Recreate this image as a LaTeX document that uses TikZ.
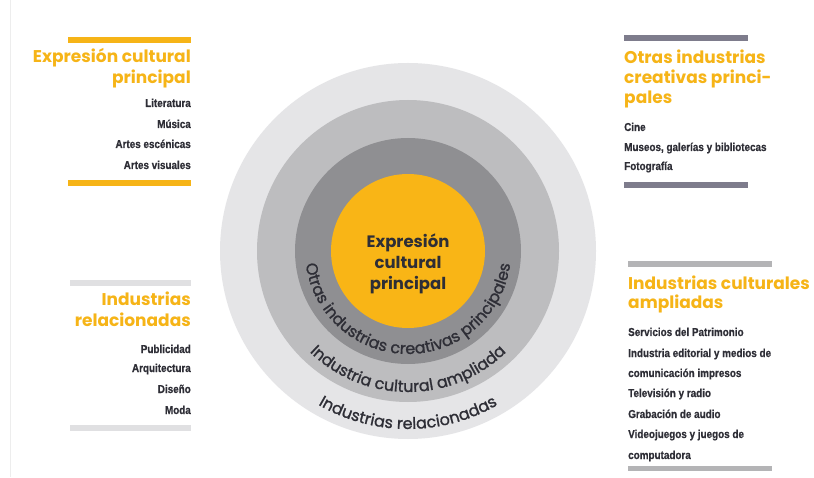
\documentclass[tikz,border=0pt]{standalone}
\usepackage{fontspec}
\setmainfont{Poppins}
\newfontfamily\headfont{Poppins}
\newfontfamily\ringfont{Poppins}[FakeBold=1.2]
\newfontfamily\itemfont{Liberation Sans}[FakeStretch=0.86, FakeBold=0.6]
\usetikzlibrary{decorations.text}
\definecolor{gold}{HTML}{F6B417}
\definecolor{ringA}{HTML}{E5E5E7}
\definecolor{ringB}{HTML}{BDBDBF}
\definecolor{ringC}{HTML}{8F8F92}
\definecolor{core}{HTML}{F9B516}
\definecolor{ink}{HTML}{2E2E36}
\definecolor{barpurple}{HTML}{7E7C8C}
\definecolor{barlight}{HTML}{E0E0E2}
\definecolor{barmid}{HTML}{B4B4B6}
\definecolor{edge}{HTML}{EDEDED}
\begin{document}
\begin{tikzpicture}[x=1pt,y=1pt,
  heading/.style={font=\headfont\bfseries\fontsize{17}{21}\selectfont, text=gold, inner sep=0pt},
  item/.style={font=\itemfont\bfseries\fontsize{11.5}{13}\selectfont, text=ink, inner sep=0pt},
  centertext/.style={font=\headfont\bfseries\fontsize{16.5}{21}\selectfont, text=ink, inner sep=0pt, anchor=base},
  ringtext/.style={decorate, decoration={text along path, text align=center, text={|\ringfont\fontsize{16}{16}\selectfont\color{ink}|#1}}}
]
\useasboundingbox (0,0) rectangle (814,477);
\fill[white] (0,0) rectangle (814,477);
\draw[edge, line width=1pt] (10,0) -- (10,477);

% circles
\coordinate (C) at (408,226);
\fill[ringA] (C) circle[radius=188];
\fill[ringB] (C) circle[radius=151];
\fill[ringC] (C) circle[radius=113];
\fill[core] (C) circle[radius=77];

\node[centertext] (c1) at (408,229) {Expresión};
\node[centertext] (c2) at (408,208) {cultural};
\node[centertext] (c3) at (408,187) {principal};

\path[ringtext={Otras industrias creativas principales}] (C) ++(180:103) arc[start angle=180, end angle=360, radius=103];
\path[ringtext={Industria cultural ampliada}] (C) ++(180:141) arc[start angle=180, end angle=360, radius=141];
\path[ringtext={Industrias relacionadas}] (C) ++(180:178) arc[start angle=180, end angle=360, radius=178];

% top left block
\fill[gold] (68,440) rectangle (191,434);
\node[heading, anchor=base east] (tl1) at (191,414) {Expresión cultural};
\node[heading, anchor=base east] (tl2) at (191,393) {principal};
\node[item, anchor=base east] (tla) at (191,370) {Literatura};
\node[item, anchor=base east] (tlb) at (191,349) {Música};
\node[item, anchor=base east] (tlc) at (191,329) {Artes escénicas};
\node[item, anchor=base east] (tld) at (191,308) {Artes visuales};
\fill[gold] (68,297) rectangle (191,291);

% bottom left block
\fill[barlight] (70,197) rectangle (191,191);
\node[heading, anchor=base east] (bl1) at (191,171) {Industrias};
\node[heading, anchor=base east] (bl2) at (191,150) {relacionadas};
\node[item, anchor=base east] (bla) at (191,124) {Publicidad};
\node[item, anchor=base east] (blb) at (191,105) {Arquitectura};
\node[item, anchor=base east] (blc) at (191,84) {Diseño};
\node[item, anchor=base east] (bld) at (191,63) {Moda};
\fill[barlight] (70,52) rectangle (191,46);

% top right block
\fill[barpurple] (624,442) rectangle (748,436);
\node[heading, anchor=base west] (tr1) at (624,413) {Otras industrias};
\node[heading, anchor=base west] (tr2) at (624,393) {creativas princi-};
\node[heading, anchor=base west] (tr3) at (624,373) {pales};
\node[item, anchor=base west] (tra) at (624,346) {Cine};
\node[item, anchor=base west] (trb) at (624,326) {Museos, galerías y bibliotecas};
\node[item, anchor=base west] (trc) at (624,307) {Fotografía};
\fill[barpurple] (624,295) rectangle (748,289);

% bottom right block
\fill[barmid] (628,216) rectangle (772,210);
\node[heading, anchor=base west] (br1) at (628,187) {Industrias culturales};
\node[heading, anchor=base west] (br2) at (628,168) {ampliadas};
\node[item, anchor=base west] (bra) at (628,141) {Servicios del Patrimonio};
\node[item, anchor=base west] (brb) at (628,120) {Industria editorial y medios de};
\node[item, anchor=base west] (brc) at (628,100) {comunicación impresos};
\node[item, anchor=base west] (brd) at (628,80) {Televisión y radio};
\node[item, anchor=base west] (bre) at (628,59) {Grabación de audio};
\node[item, anchor=base west] (brf) at (628,39) {Videojuegos y juegos de};
\node[item, anchor=base west] (brg) at (628,18) {computadora};
\fill[barmid] (628,11) rectangle (772,6);
\end{tikzpicture}
\end{document}
